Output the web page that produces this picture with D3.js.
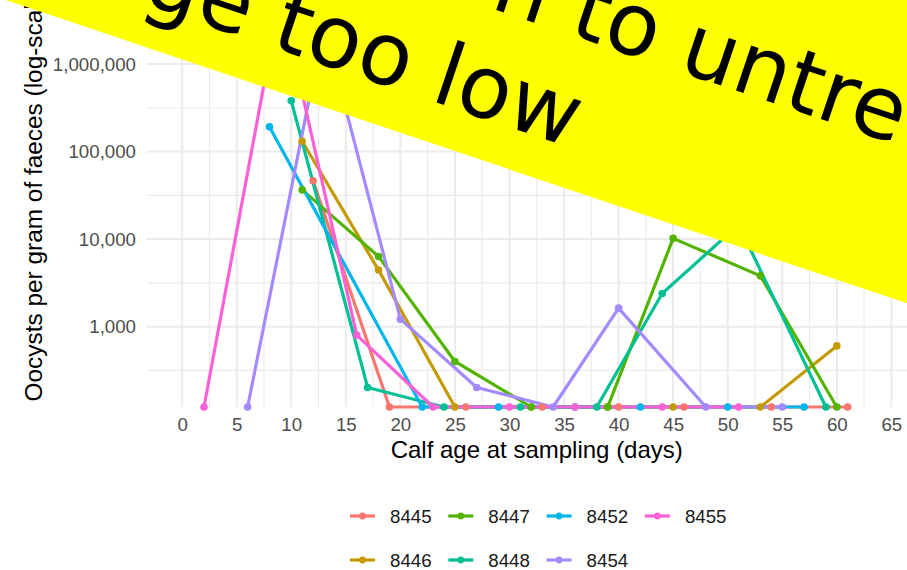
<!DOCTYPE html>
<html><head><meta charset="utf-8">
<script src="https://cdn.jsdelivr.net/npm/d3@7/dist/d3.min.js"></script>
<style>html,body{margin:0;padding:0;background:#fff;overflow:hidden}</style>
</head><body>
<svg id="c" width="907" height="570"></svg>
<script>
// ---- data ----
const calves = ["8445", "8446", "8447", "8448", "8452", "8454", "8455"];
const days8445 = [12, 19, 26, 33, 40, 46, 54, 61];
const opg8445  = [46400, 0, 0, 0, 0, 0, 0, 0];
const days8446 = [11, 18, 25, 32, 39, 45, 53, 60];
const opg8446  = [131000, 4430, 0, 0, 0, 0, 0, 603];
const days8447 = [11, 18, 25, 32, 39, 45, 53, 60];
const opg8447  = [36500, 6340, 400, 0, 0, 10200, 3800, 0];
const days8448 = [10, 17, 24, 31, 38, 44, 51, 59];
const opg8448  = [380000, 202, 0, 0, 0, 2390, 14600, 0];
const days8452 = [8, 22, 29, 36, 42, 50, 57];
const opg8452  = [192000, 0, 0, 0, 0, 0, 0];
const days8454 = [6, 13, 20, 27, 34, 40, 48, 55];
const opg8454  = [0, 2800000, 1218, 202, 0, 1626, 0, 0];
const days8455 = [2, 9, 16, 23, 30, 36, 44, 51];
const opg8455  = [0, 5900000, 800, 0, 0, 0, 0, 0];

const xTicks = [0, 5, 10, 15, 20, 25, 30, 35, 40, 45, 50, 55, 60, 65];
const yTicks = [1000, 10000, 100000, 1000000];
const yTickLabels = ["1,000", "10,000", "100,000", "1,000,000"];
const xTitle = "Calf age at sampling (days)";
const yTitle = "Oocysts per gram of faeces (log-scale)";
const bannerLine1 = "n to untre";
const bannerLine2 = "ge too low";

// ---- styling ----
const colors = ["#F8766D", "#C49A00", "#53B400", "#00C094", "#00B6EB", "#A58AFF", "#FB61D7"];
const dayArrays = [days8445, days8446, days8447, days8448, days8452, days8454, days8455];
const opgArrays = [opg8445, opg8446, opg8447, opg8448, opg8452, opg8454, opg8455];
const series = calves.map((c, i) => ({
  id: c, color: colors[i],
  pts: dayArrays[i].map((d, j) => ({day: d, v: opgArrays[i][j]}))
}));

const svg = d3.select("#c");
const font = "'Liberation Sans', Arial, Helvetica, sans-serif";
const panel = {left: 146.7, right: 926.8, top: -23, bottom: 407};

// x: 0..65 with 5% expansion
const xr = d3.extent(xTicks), xpad = (xr[1] - xr[0]) * 0.05;
const x = d3.scaleLinear().domain([xr[0] - xpad, xr[1] + xpad]).range([panel.left, panel.right]);

// y: log10, positive range with 5% expansion; zeros (-Inf) sit at panel edge
const pos = opgArrays.flat().filter(v => v > 0);
const lo = Math.log10(d3.min(pos)), hi = Math.log10(d3.max(pos)), R = hi - lo;
const y = d3.scaleLog().domain([10 ** (lo - 0.05 * R), 10 ** (hi + 0.05 * R)]).range([panel.bottom, panel.top]);
const yPos = v => v > 0 ? y(v) : y.range()[0];

// ---- grid ----
const grid = svg.append("g");
const xMinor = xTicks.slice(0, -1).map((t, i) => (t + xTicks[i + 1]) / 2).concat([xTicks[xTicks.length - 1] + 2.5]);
const yMinor = [2.5, 3.5, 4.5, 5.5, 6.5].map(e => 10 ** e).filter(v => v >= y.domain()[0] && v <= y.domain()[1]);
grid.selectAll(".hmin").data(yMinor).join("line")
  .attr("x1", panel.left).attr("x2", panel.right).attr("y1", d => y(d)).attr("y2", d => y(d))
  .attr("stroke", "#EBEBEB").attr("stroke-width", 1.1);
grid.selectAll(".vmin").data(xMinor).join("line")
  .attr("y1", panel.top).attr("y2", panel.bottom).attr("x1", d => x(d)).attr("x2", d => x(d))
  .attr("stroke", "#EBEBEB").attr("stroke-width", 1.1);
grid.selectAll(".hmaj").data(yTicks).join("line")
  .attr("x1", panel.left).attr("x2", panel.right).attr("y1", d => y(d)).attr("y2", d => y(d))
  .attr("stroke", "#EBEBEB").attr("stroke-width", 2);
grid.selectAll(".vmaj").data(xTicks).join("line")
  .attr("y1", panel.top).attr("y2", panel.bottom).attr("x1", d => x(d)).attr("x2", d => x(d))
  .attr("stroke", "#EBEBEB").attr("stroke-width", 2);

// ---- axes ----
const gx = svg.append("g").attr("transform", `translate(0,${panel.bottom})`)
  .call(d3.axisBottom(x).tickValues(xTicks).tickSize(0).tickPadding(11).tickFormat(d3.format("d")));
const gy = svg.append("g").attr("transform", `translate(${panel.left},0)`)
  .call(d3.axisLeft(y).tickValues(yTicks).tickSize(0).tickPadding(10.7).tickFormat((d, i) => yTickLabels[i]));
[gx, gy].forEach(g => {
  g.select(".domain").remove();
  g.selectAll("text").attr("fill", "#4D4D4D").style("font-family", font).style("font-size", "18.7px");
});

svg.append("text").attr("x", (panel.left + panel.right) / 2).attr("y", 458)
  .attr("text-anchor", "middle").style("font-family", font).style("font-size", "24px").attr("fill", "#000")
  .text(xTitle);
svg.append("text").attr("transform", `translate(41.5,${(panel.top + panel.bottom) / 2}) rotate(-90)`)
  .attr("text-anchor", "middle").style("font-family", font).style("font-size", "24.4px").attr("fill", "#000")
  .text(yTitle);

// ---- lines and points ----
const line = d3.line().x(d => x(d.day)).y(d => yPos(d.v));
const plot = svg.append("g");
plot.selectAll(".ln").data(series).join("path")
  .attr("d", d => line(d.pts)).attr("fill", "none").attr("stroke", d => d.color)
  .attr("stroke-width", 3.2).attr("stroke-linejoin", "round").attr("stroke-linecap", "butt");
series.forEach(s => {
  plot.selectAll(null).data(s.pts).join("circle")
    .attr("cx", d => x(d.day)).attr("cy", d => yPos(d.v)).attr("r", 3.8).attr("fill", s.color);
});

// ---- legend (2 rows, filled by column) ----
const leg = svg.append("g");
series.forEach((s, i) => {
  const col = Math.floor(i / 2), row = i % 2;
  const kx = 350 + col * 98.3, ky = 516 + row * 44;
  leg.append("line").attr("x1", kx).attr("x2", kx + 25).attr("y1", ky).attr("y2", ky)
    .attr("stroke", s.color).attr("stroke-width", 3.2);
  leg.append("circle").attr("cx", kx + 12.5).attr("cy", ky).attr("r", 3.4).attr("fill", s.color);
  leg.append("text").attr("x", kx + 40).attr("y", ky).attr("dy", "0.35em")
    .style("font-family", font).style("font-size", "18.7px").attr("fill", "#1A1A1A").text(s.id);
});

// ---- yellow banner overlay ----
const ban = svg.append("g").attr("transform", "translate(6,0) rotate(18.6)");
ban.append("rect").attr("x", -400).attr("y", -1000).attr("width", 1800).attr("height", 1000).attr("fill", "#FFFF00");
ban.append("text").attr("x", 460).attr("y", -147).style("font-family", "'DejaVu Sans', sans-serif")
  .style("font-size", "87px").attr("fill", "#000").text(bannerLine1);
ban.append("text").attr("x", 128).attr("y", -40).style("font-family", "'DejaVu Sans', sans-serif")
  .style("font-size", "87px").attr("fill", "#000").text(bannerLine2);
</script>
</body></html>
